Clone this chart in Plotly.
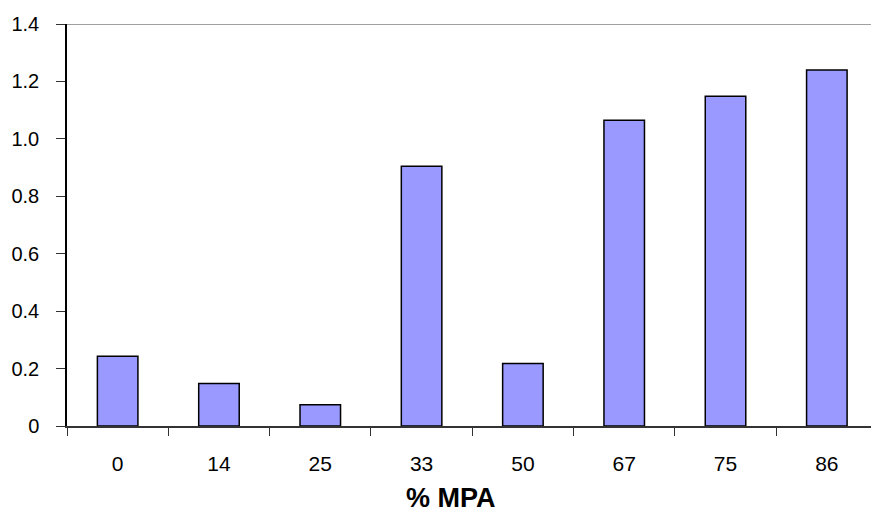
import plotly.graph_objects as go

categories = ["0", "14", "25", "33", "50", "67", "75", "86"]
values = [0.243, 0.148, 0.074, 0.905, 0.218, 1.065, 1.148, 1.240]
ytick_vals = [0, 0.2, 0.4, 0.6, 0.8, 1.0, 1.2, 1.4]
ytick_text = ["0", "0.2", "0.4", "0.6", "0.8", "1.0", "1.2", "1.4"]
x_title = "% MPA"

fig = go.Figure()
fig.add_trace(go.Bar(
    x=categories, y=values, width=0.4,
    marker=dict(color="#9999FF", line=dict(color="#000000", width=1.5)),
))

font = "Liberation Sans, Arial, sans-serif"
fig.update_layout(
    width=871, height=531,
    margin=dict(l=67, r=0, t=24, b=105),
    plot_bgcolor="white", paper_bgcolor="white",
    showlegend=False,
    font=dict(family=font, size=20, color="#000000"),
    xaxis=dict(
        type="category", range=[-0.5, 7.436],
        showline=True, linecolor="#333333", linewidth=1.5,
        ticks="outside", tickson="boundaries", ticklen=8, tickcolor="#333333",
        showgrid=False, ticklabelstandoff=18, tickfont=dict(size=21),
    ),
    yaxis=dict(
        range=[0, 1.4], tickvals=ytick_vals, ticktext=ytick_text,
        showline=True, linecolor="#000000", linewidth=1.5,
        ticks="outside", ticklen=9, tickcolor="#333333",
        showgrid=False, zeroline=False, ticklabelstandoff=13, tickfont=dict(size=20),
    ),
    shapes=[dict(type="line", xref="paper", yref="y", x0=0, x1=1, y0=1.4, y1=1.4,
                 line=dict(color="#808080", width=1.5))],
    annotations=[dict(text="<b>" + x_title + "</b>", xref="paper", yref="paper",
                      x=0.4776, y=-0.178, xanchor="center", yanchor="middle",
                      showarrow=False, font=dict(family=font, size=27))],
)

fig.write_html("out.html", config={"displayModeBar": False},
               post_script="document.body.style.margin='0px';")
